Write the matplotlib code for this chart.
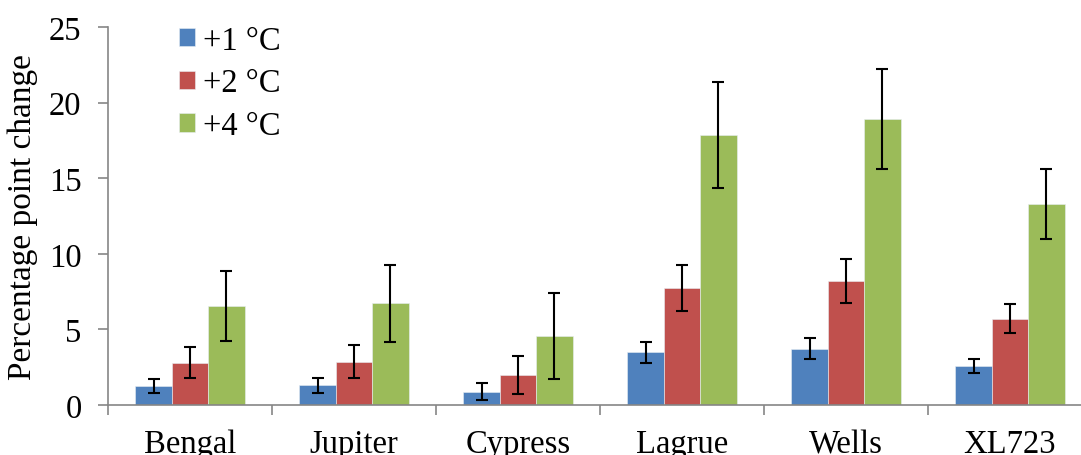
import matplotlib
matplotlib.use("Agg")
import matplotlib.pyplot as plt
import numpy as np

# data
cultivars = ["Bengal", "Jupiter", "Cypress", "Lagrue", "Wells", "XL723"]
series = ["+1 \u00b0C", "+2 \u00b0C", "+4 \u00b0C"]
plus1 = [1.26, 1.30, 0.89, 3.49, 3.73, 2.58]
plus2 = [2.81, 2.87, 1.97, 7.71, 8.21, 5.72]
plus4 = [6.54, 6.73, 4.55, 17.88, 18.92, 13.29]
err1 = [0.46, 0.49, 0.57, 0.70, 0.69, 0.46]
err2 = [1.00, 1.10, 1.25, 1.52, 1.44, 0.97]
err4 = [2.30, 2.54, 2.85, 3.50, 3.29, 2.30]

colors = ["#4F81BD", "#C0504D", "#9BBB59"]
axis_grey = "#868686"

plt.rcParams['font.family'] = ['Liberation Serif', 'DejaVu Serif']

fig = plt.figure(figsize=(10.81, 4.56), dpi=100)
# axes runs a bit past the right edge of the picture, like the original
ax = fig.add_axes([108/1081, 50/456, 984/1081, 378/456])

x = np.arange(len(cultivars))
w = 0.222
for i, (vals, errs) in enumerate(zip([plus1, plus2, plus4], [err1, err2, err4])):
    ax.bar(x + (i - 1) * w, vals, w, color=colors[i], edgecolor="#e8eef4",
           linewidth=0.4, label=series[i], zorder=2)
    ax.errorbar(x + (i - 1) * w, vals, yerr=errs, fmt="none", ecolor="black",
                elinewidth=1.5, capsize=4.5, capthick=1.5, zorder=3)

ax.set_xlim(-0.5, len(cultivars) - 0.5)
ax.set_ylim(0, 25)
ax.set_yticks([0, 5, 10, 15, 20, 25])

# boundaries get the tick marks, centres get the names
ax.set_xticks(np.arange(len(cultivars) + 1) - 0.5)
ax.set_xticklabels([])
ax.set_xticks(x, minor=True)
ax.set_xticklabels(cultivars, minor=True)
ax.tick_params(axis="x", which="major", length=7, width=1.2, color=axis_grey)
ax.tick_params(axis="x", which="minor", length=0, pad=17, labelsize=23.5)
ax.tick_params(axis="y", length=7, width=1.2, color=axis_grey, pad=12, labelsize=23.5)

for s in ["top", "right"]:
    ax.spines[s].set_visible(False)
for s in ["left", "bottom"]:
    ax.spines[s].set_color(axis_grey)
    ax.spines[s].set_linewidth(1.2)

fig.text(23/1081, 1 - 217/456, "Percentage point change", rotation=90,
         ha="center", va="center", fontsize=24)

ax.legend(loc="upper left", bbox_to_anchor=(179/1081, 1 - 26/456),
          bbox_transform=fig.transFigure, frameon=False, fontsize=23.5,
          handlelength=0.5, handleheight=0.5, handletextpad=0.25,
          labelspacing=0.38, borderpad=0, borderaxespad=0)

fig.savefig("out.png", dpi=100)
